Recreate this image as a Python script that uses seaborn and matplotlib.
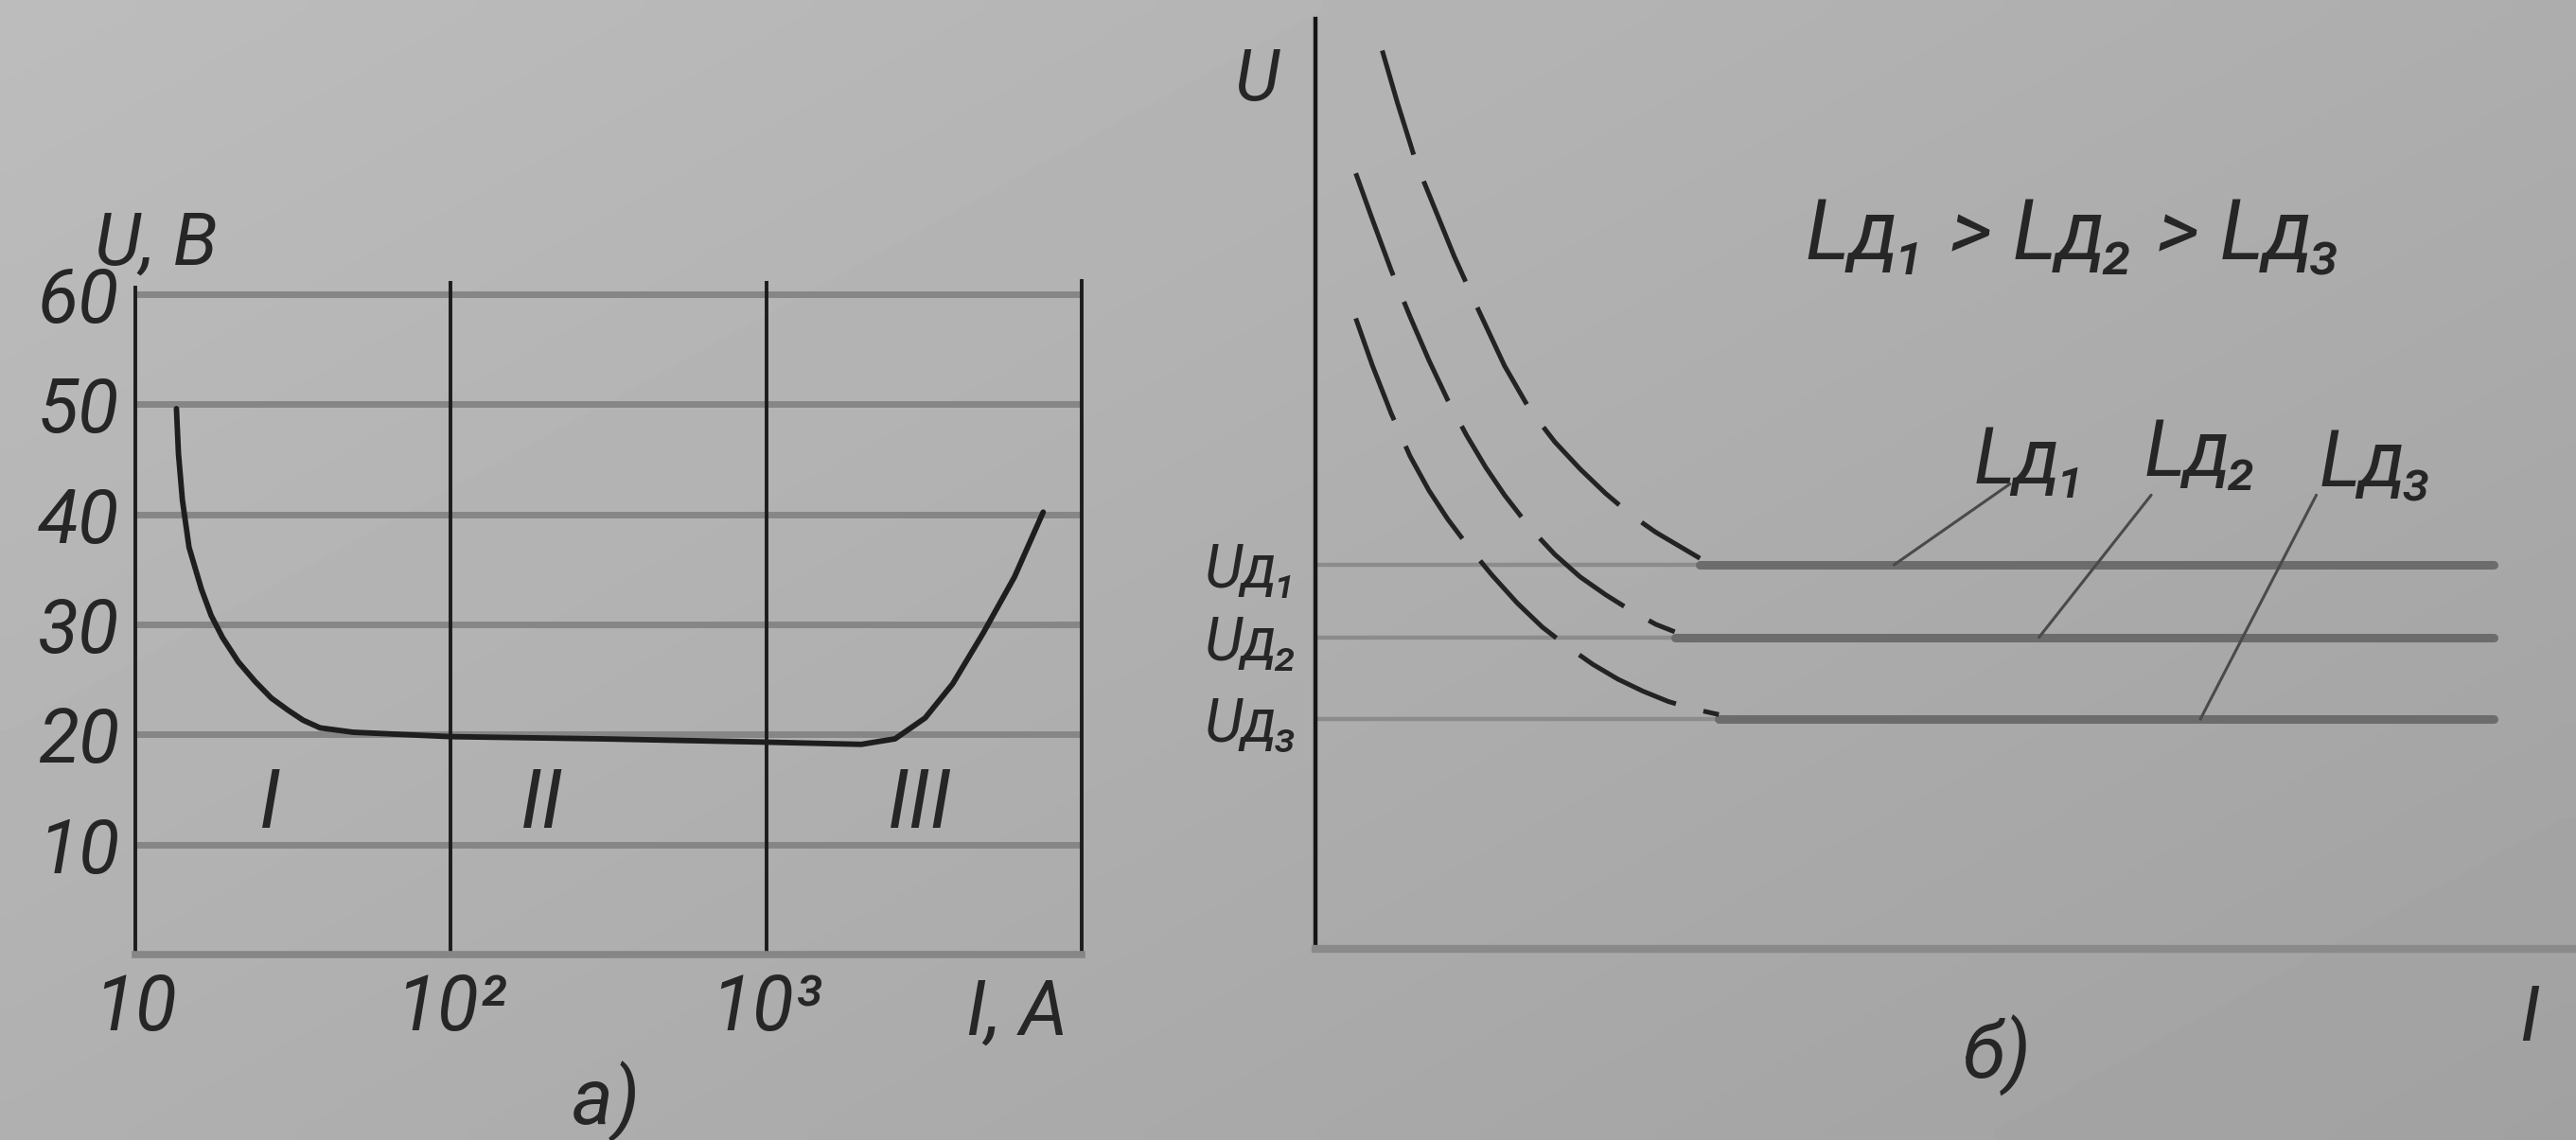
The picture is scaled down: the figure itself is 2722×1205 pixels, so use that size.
import numpy as np
import pandas as pd
import matplotlib
matplotlib.use("Agg")
import matplotlib.pyplot as plt
from matplotlib.ticker import NullLocator
import seaborn as sns

# ---- panel a): arc voltage vs current (log current axis) ----
current_a = [13.5, 13.7, 14.1, 14.8, 16.2, 17.4, 18.9, 21.2, 24.0, 27.0,
             30.5, 34.0, 38.5, 49.0, 70, 100, 300, 1000, 2000, 2560, 3190,
             3900, 4870, 6120, 7550]
voltage_a = [49.6, 45.5, 41.3, 37.0, 33.2, 30.8, 28.8, 26.6, 24.8, 23.3,
             22.2, 21.3, 20.6, 20.2, 20.0, 19.8, 19.6, 19.3, 19.1, 19.6, 21.5,
             24.6, 29.2, 34.3, 40.2]
volt_ticks = [10, 20, 30, 40, 50, 60]
curr_ticks = [10, 100, 1000]
curr_tick_labels = ["10", "10²", "10³"]
curr_limits = (10, 10000)
zone_names = ["I", "II", "III"]
zone_current = [26.7, 195, 3070]
zone_voltage = 13.6

# ---- panel b): voltage vs current for three arc lengths ----
arc_levels = [4.13, 3.35, 2.47]
arc_level_labels = ["Uд₁", "Uд₂", "Uд₃"]
arc_names = ["Lд₁", "Lд₂", "Lд₃"]
falling_x = [
    [0.53, 0.65, 0.8, 0.95, 1.1, 1.3, 1.5, 1.7, 1.9, 2.1, 2.3, 2.5, 2.7,
     2.9, 3.05],
    [0.32, 0.45, 0.6, 0.75, 0.9, 1.05, 1.2, 1.35, 1.5, 1.7, 1.9, 2.1, 2.3,
     2.5, 2.7, 2.85],
    [0.32, 0.45, 0.6, 0.75, 0.9, 1.05, 1.2, 1.4, 1.6, 1.8, 2.0, 2.2, 2.4,
     2.6, 2.8, 3.0, 3.2],
]
falling_u = [
    [9.66, 9.10, 8.45, 7.95, 7.45, 6.85, 6.27, 5.80, 5.45, 5.16, 4.90, 4.67,
     4.48, 4.32, 4.20],
    [8.34, 7.85, 7.30, 6.80, 6.33, 5.90, 5.52, 5.18, 4.88, 4.53, 4.24, 4.00,
     3.81, 3.64, 3.49, 3.41],
    [6.78, 6.28, 5.76, 5.30, 4.93, 4.62, 4.35, 4.02, 3.72, 3.46, 3.25, 3.06,
     2.90, 2.77, 2.66, 2.58, 2.52],
]
flat_end = 9.35
leader_foot_x = [4.59, 5.74, 7.02]
leader_top = [(5.51, 5.0), (6.63, 4.88), (7.94, 4.88)]
arc_label_pos = [(5.68, 5.24), (7.03, 5.32), (8.42, 5.20)]

INK = "#262626"
GRID = "#868686"

sns.set_theme(style="white")
plt.rcParams["font.family"] = ["Roboto", "Liberation Sans", "DejaVu Sans"]
plt.rcParams["font.style"] = "italic"
plt.rcParams["font.weight"] = "normal"

W, H = 2722, 1205
fig = plt.figure(figsize=(W / 100, H / 100), dpi=100)

# paper tone, slightly darker toward the lower right
bg = fig.add_axes([0, 0, 1, 1], zorder=-10)
yy, xx = np.mgrid[0:1:60j, 0:1:120j]
bg.imshow(188 - 15 * xx - 12 * yy, cmap="gray", vmin=0, vmax=255,
          aspect="auto", extent=(0, 1, 0, 1), origin="upper",
          interpolation="bilinear")
bg.axis("off")

# ================= panel a) =================
ax1 = fig.add_axes([143 / W, (H - 1009) / H, 1000 / W, (1009 - 297) / H])
ax1.patch.set_alpha(0)
ax1.set_xscale("log")
ax1.set_xlim(*curr_limits)
ax1.set_ylim(0, 61.2)

for v in volt_ticks:
    ax1.axhline(v, color=GRID, lw=5, zorder=1, solid_capstyle="butt")
for c in curr_ticks[1:]:
    ax1.axvline(c, color="#1c1c1c", lw=2.8, zorder=2)

sns.lineplot(x=current_a, y=voltage_a, ax=ax1, color="#1e1e1e", lw=4.2,
             zorder=3, sort=False)

for name, c in zip(zone_names, zone_current):
    ax1.text(c, zone_voltage, name, fontsize=62, color=INK,
             ha="center", va="center")

ax1.set_yticks(volt_ticks)
ax1.set_yticklabels([str(v) for v in volt_ticks])
ax1.set_xticks(curr_ticks)
ax1.set_xticklabels(curr_tick_labels)
ax1.xaxis.set_minor_locator(NullLocator())
ax1.tick_params(axis="y", length=0, pad=12, labelsize=57, labelcolor=INK)
ax1.tick_params(axis="x", length=0, pad=14, labelsize=58, labelcolor=INK)
ax1.set_xlabel("")
ax1.set_ylabel("")

ax1.spines["top"].set_visible(False)
ax1.spines["left"].set_color("#1c1c1c")
ax1.spines["left"].set_linewidth(2.8)
ax1.spines["left"].set_bounds(0, 60.6)
ax1.spines["right"].set_color("#1c1c1c")
ax1.spines["right"].set_linewidth(2.8)
ax1.spines["bottom"].set_color(GRID)
ax1.spines["bottom"].set_linewidth(5.5)

ax1.text(0.022, 1.055, "U, В", transform=ax1.transAxes, fontsize=56,
         color=INK, ha="center", va="center")
ax1.text(0.932, -0.088, "I, A", transform=ax1.transAxes, fontsize=58,
         color=INK, ha="center", va="center")
ax1.text(0.497, -0.219, "а)", transform=ax1.transAxes, fontsize=60,
         color=INK, ha="center", va="center")

# ================= panel b) =================
ax2 = fig.add_axes([1390 / W, (H - 1003) / H, (W - 1390) / W, (1003 - 20) / H])
ax2.patch.set_alpha(0)
ax2.set_xlim(0, 10)
ax2.set_ylim(0, 10)

for lvl, xs, us in zip(arc_levels, falling_x, falling_u):
    join = xs[-1]
    # thin reference line from the axis to where the curve settles
    ax2.hlines(lvl, 0, join, color="#8c8c8c", lw=3.2, zorder=1)
    sns.lineplot(x=xs, y=us, ax=ax2, color="#232323", lw=3.6,
                 linestyle=(0, (23, 6)), zorder=3, sort=False)
    sns.lineplot(x=[join, flat_end], y=[lvl, lvl], ax=ax2, color="#6c6c6c",
                 lw=6.5, zorder=2, sort=False)

for name, foot_x, lvl, top, pos in zip(arc_names, leader_foot_x, arc_levels,
                                        leader_top, arc_label_pos):
    ax2.plot([foot_x, top[0]], [lvl, top[1]], color="#4a4a4a", lw=2.2,
             zorder=4)
    ax2.text(pos[0], pos[1], name, fontsize=60, color=INK,
             ha="center", va="center")

ax2.text(0.602, 0.766, "Lд₁ > Lд₂ > Lд₃", transform=ax2.transAxes,
         fontsize=64, color=INK, ha="center", va="center")

ax2.set_yticks(arc_levels)
ax2.set_yticklabels(arc_level_labels)
ax2.set_xticks([])
ax2.tick_params(axis="y", length=0, pad=12, labelsize=46, labelcolor=INK)
ax2.set_xlabel("")
ax2.set_ylabel("")
ax2.spines["top"].set_visible(False)
ax2.spines["right"].set_visible(False)
ax2.spines["left"].set_color("#151515")
ax2.spines["left"].set_linewidth(3.2)
ax2.spines["bottom"].set_color("#8a8a8a")
ax2.spines["bottom"].set_linewidth(6)

ax2.text(-0.0465, 0.934, "U", transform=ax2.transAxes, fontsize=54,
         color=INK, ha="center", va="center")
ax2.text(0.963, -0.076, "I", transform=ax2.transAxes, fontsize=58,
         color=INK, ha="center", va="center")
ax2.text(0.54, -0.115, "б)", transform=ax2.transAxes, fontsize=60,
         color=INK, ha="center", va="center")

fig.savefig("out.png", dpi=100)
